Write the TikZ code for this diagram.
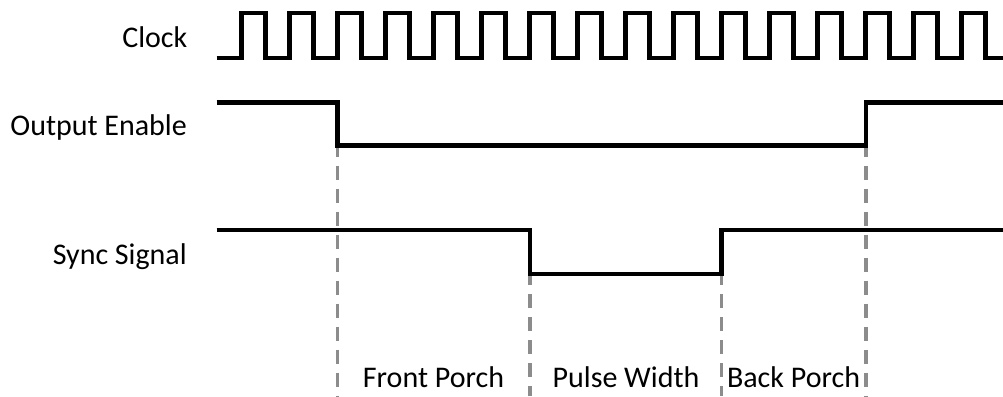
\documentclass[tikz,border=0pt]{standalone}
\usepackage{fontspec}
\setmainfont{Carlito}
\begin{document}
\begin{tikzpicture}[x=1pt,y=-1pt,
  signal/.style={line width=4.8pt,black,line join=miter},
  marker/.style={line width=3.2pt,color=gray!90,dash pattern=on 14pt off 9pt},
  lbl/.style={font=\fontsize{30}{32}\selectfont,inner sep=0pt,text=black},
  signame/.style={lbl,anchor=base east},
  phase/.style={lbl,anchor=base}]
  \useasboundingbox (0,0) rectangle (1003,396);

  % timing edges
  \coordinate (oeFall) at (337.3,145.7);
  \coordinate (oeRise) at (866,145.7);
  \coordinate (syFall) at (530,274);
  \coordinate (syRise) at (721.7,274);
  \coordinate (oeFallB) at (337.3,396);
  \coordinate (oeRiseB) at (866,396);
  \coordinate (syFallB) at (530,396);
  \coordinate (syRiseB) at (721.7,396);

  % dashed markers below the edges
  \draw[marker] ([yshift=3pt]oeFall) -- (oeFallB);
  \draw[marker] ([yshift=3pt]oeRise) -- (oeRiseB);
  \draw[marker] ([yshift=3pt]syFall) -- (syFallB);
  \draw[marker] ([yshift=3pt]syRise) -- (syRiseB);

  % signal names
  \node[signame] (clk) at (187.5,47.3) {Clock};
  \node[signame] (oe)  at (187,135)   {Output Enable};
  \node[signame] (sy)  at (187,264)   {Sync Signal};

  % clock: 16 pulses, period 48
  \draw[signal] (216.7,58) -- (241.7,58)
    \foreach \k in {0,...,15} {
      -- ++(0,-45) -- ++(24,0) -- ++(0,45) -- ++(24,0)
    } -- (1003,58);

  % output enable
  \draw[signal] (216.7,102.3) -- (oeFall |- 0,102.3) -- (oeFall)
    -- (oeRise) -- (oeRise |- 0,102.3) -- (1003,102.3);

  % sync signal
  \draw[signal] (216.7,230) -- (syFall |- 0,230) -- (syFall)
    -- (syRise) -- (syRise |- 0,230) -- (1003,230);

  % phase labels
  \node[phase] (fp) at (433.5,387.5) {Front Porch};
  \node[phase] (pw) at (626,387.5)   {Pulse Width};
  \node[phase] (bp) at (793.5,387.5) {Back Porch};
\end{tikzpicture}
\end{document}
